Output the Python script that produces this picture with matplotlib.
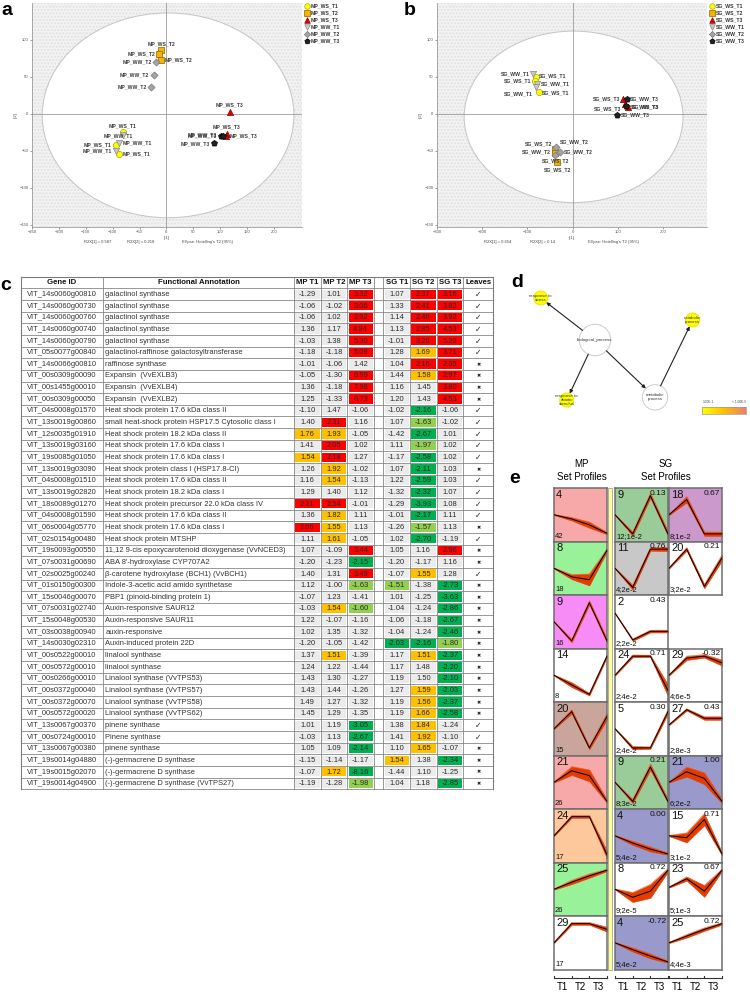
import numpy as np
import matplotlib.pyplot as plt
from matplotlib.patches import Ellipse, Rectangle, Circle
from matplotlib.colors import LinearSegmentedColormap

plt.rcParams['font.family'] = ['Liberation Sans', 'DejaVu Sans']

W, H = 750, 992

# ---------------- data: panels a / b (PCA scores) ----------------
mp_groups = ['MP_WS_T1', 'MP_WS_T2', 'MP_WS_T3', 'MP_WW_T1', 'MP_WW_T2', 'MP_WW_T3']
mp_t1 = [[-81, -94, -89], [-10, -13, -11], [118, 112, 110],
         [-81, -89, -94], [-19, -24, -29], [101, 105, 89]]
mp_t2 = [[-24, -42, -54], [86, 81, 73], [3, -27, -30],
         [-28, -39, -50], [70, 53, 36], [-30, -30, -40]]
mp_r2x = [0.587, 0.218]

sg_groups = ['SG_WS_T1', 'SG_WS_T2', 'SG_WS_T3', 'SG_WW_T1', 'SG_WW_T2', 'SG_WW_T3']
sg_t1 = [[-80, -83, -75], [-38, -38, -34], [112, 115, 123],
         [-87, -78, -80], [-36, -38, -27], [120, 119, 99]]
sg_t2 = [[50, 44, 29], [-47, -53, -65], [20, 14, 9],
         [54, 40, 36], [-45, -55, -51], [20, 11, -1]]
sg_r2x = [0.654, 0.14]

# ---------------- data: panel c (table) ----------------
gene_ids = ['VIT_14s0060g00810', 'VIT_14s0060g00730', 'VIT_14s0060g00760', 'VIT_14s0060g00740',
            'VIT_14s0060g00790', 'VIT_05s0077g00840', 'VIT_14s0066g00810', 'VIT_00s0309g00090',
            'VIT_00s1455g00010', 'VIT_00s0309g00050', 'VIT_04s0008g01570', 'VIT_13s0019g00860',
            'VIT_12s0035g01910', 'VIT_13s0019g03160', 'VIT_19s0085g01050', 'VIT_13s0019g03090',
            'VIT_04s0008g01510', 'VIT_13s0019g02820', 'VIT_18s0089g01270', 'VIT_04s0008g01590',
            'VIT_06s0004g05770', 'VIT_02s0154g00480', 'VIT_19s0093g00550', 'VIT_07s0031g00690',
            'VIT_02s0025g00240', 'VIT_01s0150g00300', 'VIT_15s0046g00070', 'VIT_07s0031g02740',
            'VIT_15s0048g00530', 'VIT_03s0038g00940', 'VIT_14s0030g02310', 'VIT_00s0522g00010',
            'VIT_00s0572g00010', 'VIT_00s0266g00010', 'VIT_00s0372g00040', 'VIT_00s0372g00070',
            'VIT_00s0572g00020', 'VIT_13s0067g00370', 'VIT_00s0724g00010', 'VIT_13s0067g00380',
            'VIT_19s0014g04880', 'VIT_19s0015g02070', 'VIT_19s0014g04900']
annotations = ['galactinol synthase', 'galactinol synthase', 'galactinol synthase',
               'galactinol synthase', 'galactinol synthase',
               'galactinol-raffinose galactosyltransferase', 'raffinose synthase',
               'Expansin  (VvEXLB3)', 'Expansin  (VvEXLB4)', 'Expansin  (VvEXLB2)',
               'Heat shock protein 17.6 kDa class II',
               'small heat-shock protein HSP17.5 Cytosolic class I',
               'Heat shock protein 18.2 kDa class II', 'Heat shock protein 17.6 kDa class I',
               'Heat shock protein 17.6 kDa class I', 'Heat shock protein class I (HSP17.8-CI)',
               'Heat shock protein 17.6 kDa class II', 'Heat shock protein 18.2 kDa class I',
               'Heat shock protein precursor 22.0 kDa class IV',
               'Heat shock protein 17.6 kDa class II', 'Heat shock protein 17.6 kDa class I',
               'Heat shock protein MTSHP',
               '11,12 9-cis epoxycarotenoid dioxygenase (VvNCED3)',
               "ABA 8'-hydroxylase CYP707A2", 'β-carotene hydroxylase (BCH1) (VvBCH1)',
               'Indole-3-acetic acid amido synthetase', 'PBP1 (pinoid-binding protein 1)',
               'Auxin-responsive SAUR12', 'Auxin-responsive SAUR11', 'auxin-responsive',
               'Auxin-induced protein 22D', 'linalool synthase', 'linalool synthase',
               'Linalool synthase (VvTPS53)', 'Linalool synthase (VvTPS57)',
               'Linalool synthase (VvTPS58)', 'Linalool synthase (VvTPS62)',
               'pinene synthase', 'Pinene synthase', 'pinene synthase',
               '(-)-germacrene D synthase', '(-)-germacrene D synthase',
               '(-)-germacrene D synthase (VvTPS27)']
mp_fc = [[-1.29, 1.01, 3.32], [-1.06, -1.02, 3.06], [-1.06, 1.02, 2.92], [1.36, 1.17, 4.94],
         [-1.03, 1.38, 5.30], [-1.18, -1.18, 5.09], [-1.01, -1.06, 1.42], [-1.05, -1.30, 6.69],
         [1.36, -1.18, 7.98], [1.25, -1.33, 6.73], [-1.10, 1.47, -1.06], [1.40, 2.31, 1.16],
         [1.76, 1.93, -1.05], [1.41, 2.05, 1.02], [1.54, 2.18, 1.27], [1.26, 1.92, -1.02],
         [1.16, 1.54, -1.13], [1.29, 1.40, 1.12], [2.21, 2.54, -1.01], [1.36, 1.82, 1.11],
         [2.06, 1.55, 1.13], [1.11, 1.61, -1.05], [1.07, -1.09, 3.44], [-1.20, -1.23, -2.15],
         [1.40, 1.31, 3.49], [1.12, -1.00, -1.63], [-1.07, 1.23, -1.41], [-1.03, 1.54, -1.60],
         [1.22, -1.07, -1.16], [1.02, 1.35, -1.32], [-1.20, -1.05, -1.42], [1.37, 1.51, -1.39],
         [1.24, 1.22, -1.44], [1.43, 1.30, -1.27], [1.43, 1.44, -1.26], [1.49, 1.27, -1.32],
         [1.45, 1.29, -1.35], [1.01, 1.19, -3.05], [-1.03, 1.13, -2.67], [1.05, 1.09, -2.14],
         [-1.15, -1.14, -1.17], [-1.07, 1.72, -8.16], [-1.19, -1.28, -1.98]]
sg_fc = [[1.07, 2.37, 3.16], [1.33, 2.41, 3.82], [1.14, 2.46, 3.92], [1.13, 2.85, 4.53],
         [-1.01, 3.26, 5.20], [1.28, 1.69, 3.71], [1.04, 2.16, 2.35], [1.44, 1.58, 2.97],
         [1.16, 1.45, 3.80], [1.20, 1.43, 4.53], [-1.02, -2.16, -1.06], [1.07, -1.63, -1.02],
         [-1.42, -2.67, 1.01], [1.11, -1.97, 1.02], [-1.17, -2.58, 1.02], [1.07, -2.11, 1.03],
         [1.22, -2.59, 1.03], [-1.32, -2.32, 1.07], [-1.29, -3.93, 1.08], [-1.01, -2.17, 1.11],
         [-1.26, -1.57, 1.13], [1.02, -2.70, -1.19], [1.05, 1.16, 2.96], [-1.20, -1.17, 1.16],
         [-1.07, 1.55, 1.28], [-1.51, -1.38, -2.73], [1.01, -1.25, -3.63], [-1.04, -1.24, -2.86],
         [-1.06, -1.18, -2.67], [-1.04, -1.24, -2.46], [-2.03, -2.16, -1.80], [1.17, 1.51, -2.37],
         [1.17, 1.48, -2.20], [1.19, 1.50, -2.10], [1.27, 1.59, -2.03], [1.19, 1.56, -2.37],
         [1.19, 1.66, -2.58], [1.38, 1.84, -1.24], [1.41, 1.92, -1.10], [1.10, 1.65, -1.07],
         [1.54, 1.38, -2.34], [-1.44, 1.10, -1.25], [1.04, 1.18, -2.85]]
leaves = [1, 1, 1, 1, 1, 1, 0, 0, 0, 0, 1, 1, 1, 1, 1, 0, 1, 1, 1, 1, 0, 1,
          0, 0, 1, 0, 0, 0, 0, 0, 0, 0, 0, 0, 0, 0, 0, 1, 1, 0, 0, 0, 0]

# ---------------- data: panel d (GO graph) ----------------
go_terms = ['biological_process', 'response to\nstress', 'response to\nabiotic\nstimulus',
            'metabolic\nprocess', 'catabolic\nprocess']
go_signif = [False, True, True, False, True]
go_edges = [(0, 1), (0, 2), (0, 3), (3, 4)]

# ---------------- data: panel e (STEM profiles) ----------------
mp_ids = [4, 8, 9, 14, 20, 21, 24, 25, 29]
mp_counts = [42, 18, 16, 8, 15, 26, 17, 26, 17]
mp_prof = [[0, -0.22, -0.53, -0.97], [0, -0.45, -0.6, 0.95], [0, -1.0, 1.0, -1.0],
           [0, -0.5, -1.0, 1.0], [0, 0.9, -1.0, 0.65], [0, 0.6, 0.35, -1.0],
           [0, 1.0, 1.0, -1.0], [0, 0.37, 0.7, 1.0], [0, 1.0, 1.0, 0.7]]
mp_spread = [[0.02, 0.08, 0.15, 0.05], [0.02, 0.12, 0.3, 0.06], [0.02, 0.08, 0.1, 0.1],
             [0.02, 0.12, 0.06, 0.05], [0.02, 0.1, 0.08, 0.15], [0.02, 0.22, 0.3, 0.08],
             [0.02, 0.06, 0.06, 0.2], [0.02, 0.1, 0.1, 0.05], [0.02, 0.06, 0.06, 0.12]]

# SG boxes, row by row (left, right); None = empty slot
sg_ids = [9, 18, 11, 20, 2, None, 24, 29, 5, 27, 9, 21, 4, 15, 8, 23, 4, 25]
sg_corr = [0.13, 0.67, 0.76, 0.21, 0.43, None, 0.71, -0.32, 0.30, 0.43,
           0.21, 1.00, 0.00, 0.71, 0.72, 0.67, -0.72, 0.72]
sg_stats = ['12;1e-2', '8;1e-2', '4;2e-2', '3;2e-2', '2;2e-2', None, '2;4e-2', '4;6e-5',
            '2;4e-2', '2;8e-3', '8;3e-2', '6;2e-2', '5;4e-2', '3;1e-2', '9;2e-5', '5;1e-3',
            '5;4e-2', '4;4e-3']
sg_prof = [[0, -1, 1, -1], [0, 0.8, -1, -1], [0, -1, 1, 1], [0, 1, -0.95, 0.55],
           [0.45, -0.95, -0.5, -0.5], None, [0, 1, 1, -0.8], [0, 0.9, 1, 0.65],
           [0, -1, -1, 0.9], [0.2, 1, 0.55, 0.55], [0, -1, 0.8, -1], [0, 0.55, 0.2, -1],
           [0, -0.38, -0.7, -0.95], [0, -0.1, 0.85, -0.95], [0, -0.42, -0.1, 1],
           [0.1, 0.55, -0.1, 1], [0, -0.36, -0.7, -1], [0, 0.35, 0.7, 1]]
sg_spread = [[0.02, 0.1, 0.12, 0.12], [0.02, 0.15, 0.1, 0.1], [0.02, 0.12, 0.08, 0.1],
             [0.02, 0.08, 0.1, 0.15], [0.02, 0.05, 0.06, 0.06], None,
             [0.02, 0.06, 0.05, 0.3], [0.02, 0.1, 0.08, 0.15], [0.02, 0.08, 0.05, 0.1],
             [0.02, 0.05, 0.08, 0.08], [0.02, 0.1, 0.15, 0.1], [0.02, 0.25, 0.3, 0.1],
             [0.02, 0.1, 0.12, 0.05], [0.02, 0.25, 0.3, 0.08], [0.02, 0.25, 0.35, 0.08],
             [0.02, 0.1, 0.3, 0.05], [0.02, 0.1, 0.12, 0.05], [0.02, 0.08, 0.08, 0.05]]

# ---------------- styles ----------------
grp_style = [('o', '#ffff00', '#a8a800'), ('s', '#f5b400', '#8a6400'), ('^', '#e00000', '#8a0000'),
             ('v', '#c8c8c8', '#8c8c8c'), ('D', '#a4a4a4', '#7a7a7a'), ('p', '#222222', '#000000')]
mp_box_col = ['#f7a8a8', '#99f299', '#f78cf7', 'white', '#c9a59c', '#f7a8a8', '#fdc99c',
              '#99f299', 'white']
sg_box_col = ['#99cc99', '#cc99cc', '#c8c8c8', 'white', 'white', None, 'white', 'white', 'white',
              'white', '#99cc99', '#9999cc', '#9999cc', 'white', 'white', 'white', '#9999cc', 'white']


def frac(x0, y0, x1, y1):
    return [x0 / W, 1 - y1 / H, (x1 - x0) / W, (y1 - y0) / H]


fig = plt.figure(figsize=(W / 100, H / 100), dpi=100)
ax0 = fig.add_axes([0, 0, 1, 1])
ax0.set_xlim(0, W)
ax0.set_ylim(H, 0)
ax0.axis('off')

for lab, x, y in [('a', 1, 15), ('b', 404, 15), ('c', 0, 290), ('d', 511, 287), ('e', 509, 483)]:
    ax0.text(x, y, lab, fontsize=14, fontweight='bold', ha='left', va='baseline')


# ---------------- panels a / b ----------------
def pca_panel(rect, xlim, xticks, groups, t1, t2, offs, r2x, ell, leg_x, txt_x):
    ax = fig.add_axes(frac(*rect))
    ax.set_xlim(*xlim)
    ax.set_ylim(-153, 150)
    ax.add_patch(Rectangle((0, 0), 1, 1, transform=ax.transAxes, facecolor='#f3f3f3',
                           edgecolor='#e0e0e0', hatch='.....', lw=0, zorder=0))
    ax.add_patch(Ellipse(ell[:2], ell[2], ell[3], facecolor='white', edgecolor='#c4c4c4',
                         lw=0.7, zorder=1))
    ax.axhline(0, color='#9c9c9c', lw=0.6, zorder=2)
    ax.axvline(0, color='#9c9c9c', lw=0.6, zorder=2)
    for g, xs, ys, of, (m, fc, ec) in zip(groups, t1, t2, offs, grp_style):
        ax.scatter(xs, ys, marker=m, s=20 if m != 'D' else 13, facecolor=fc, edgecolor=ec,
                   lw=0.5, zorder=4)
        for x, y, (dx, dy, ha) in zip(xs, ys, of):
            ax.text(x + dx, y + dy, g, ha=ha, va='center', fontsize=3.7, fontweight='bold',
                    color='#3a3a3a', zorder=5)
    ax.set_xticks(xticks)
    ax.set_yticks([-150, -100, -50, 0, 50, 100])
    ax.tick_params(labelsize=3, length=1.5, width=0.4, colors='#555555', pad=1)
    for s in ['top', 'right']:
        ax.spines[s].set_visible(False)
    for s in ['left', 'bottom']:
        ax.spines[s].set_color('#8a8a8a')
        ax.spines[s].set_linewidth(0.5)
    ax.set_xlabel('t[1]', fontsize=3, labelpad=1, color='#444')
    ax.set_ylabel('t[2]', fontsize=3, labelpad=1, color='#444')
    # legend
    for k, (g, (m, fc, ec)) in enumerate(zip(groups, grp_style)):
        yy = 6 + k * 6.9
        ax0.scatter([leg_x], [yy], marker=m, s=16 if m != 'D' else 10, facecolor=fc,
                    edgecolor=ec, lw=0.5)
        ax0.text(leg_x + 4, yy, g, fontsize=3.7, fontweight='bold', va='center', color='#333')
    ax0.text(txt_x[0], 242, f'R2X[1] = {r2x[0]}', fontsize=3, ha='center', va='center', color='#444')
    ax0.text(txt_x[1], 242, f'R2X[2] = {r2x[1]}', fontsize=3, ha='center', va='center', color='#444')
    ax0.text(txt_x[2], 242, "Ellipse: Hotelling's T2 (95%)", fontsize=3, ha='center',
             va='center', color='#444')


mp_offs = [[(0, 8, 'center'), (-8, 0, 'right'), (7, 0, 'left')],
           [(0, 9, 'center'), (-8, 0, 'right'), (8, 0, 'left')],
           [(0, 9, 'center'), (0, 10, 'center'), (8, 0, 'left')],
           [(-9, -2, 'center'), (7, 0, 'left'), (-8, 0, 'right')],
           [(-8, 0, 'right'), (-8, 0, 'right'), (-8, 0, 'right')],
           [(-7, 0, 'right'), (-12, 1, 'right'), (-9, 0, 'right')]]
sg_offs = [[(6, 1, 'left'), (-8, 0, 'right'), (7, 0, 'left')],
           [(-7, 7, 'right'), (0, -11, 'center'), (0, -11, 'center')],
           [(-7, 0, 'right'), (15, -4, 'left'), (-16, -2, 'right')],
           [(-7, 0, 'right'), (7, 0, 'left'), (-7, -9, 'right')],
           [(8, 7, 'left'), (-10, 3, 'right'), (8, 0, 'left')],
           [(6, 0, 'left'), (8, -1, 'left'), (7, 0, 'left')]]

pca_panel((32, 3, 302, 227), (-250, 252), [-250, -200, -150, -100, -50, 0, 50, 100, 150, 200],
          mp_groups, mp_t1, mp_t2, mp_offs, mp_r2x, (3, -2, 468, 277), 307, (98, 141, 208))
pca_panel((437, 3, 707, 227), (-300, 297), [-300, -200, -100, 0, 100, 200],
          sg_groups, sg_t1, sg_t2, sg_offs, sg_r2x, (2, -4, 484, 232), 712, (498, 543, 614))

# ---------------- panel c: table ----------------
col_x = [20.7, 103.3, 294, 320.7, 347.3, 374, 383.3, 410, 436.7, 463.3, 493.3]
y_head, y_row0, row_h = 276.7, 288.3, 11.65
n = len(gene_ids)
y_end = y_row0 + n * row_h


def fc_color(v):
    if v >= 2:
        return '#ff0000'
    if v > 1.5:
        return '#ffc000'
    if v <= -2:
        return '#00b050'
    if v < -1.5:
        return '#92d050'
    return '#ebebeb'


headers = ['Gene ID', 'Functional Annotation', 'MP T1', 'MP T2', 'MP T3', '',
           'SG T1', 'SG T2', 'SG T3', 'Leaves']
for j, h in enumerate(headers):
    ax0.text((col_x[j] + col_x[j + 1]) / 2, (y_head + y_row0) / 2 + 0.3, h, ha='center',
             va='center', fontsize=5.6, fontweight='bold', color='#111')

for i in range(n):
    y0 = y_row0 + i * row_h
    yc = y0 + row_h / 2 + 0.3
    ax0.text((col_x[0] + col_x[1]) / 2, yc, gene_ids[i], ha='center', va='center',
             fontsize=5.4, color='#333')
    ax0.text(col_x[1] + 2, yc, annotations[i], ha='left', va='center', fontsize=5.4, color='#333')
    vals = list(mp_fc[i]) + list(sg_fc[i])
    cols = [2, 3, 4, 6, 7, 8]
    for v, c in zip(vals, cols):
        ax0.add_patch(Rectangle((col_x[c] + 1.2, y0 + 1.2), col_x[c + 1] - col_x[c] - 2.4,
                                row_h - 2.4, facecolor=fc_color(v), lw=0))
        ax0.text((col_x[c] + col_x[c + 1]) / 2, yc, f'{v:.2f}', ha='center', va='center',
                 fontsize=5.4, color='#2a2a2a')
    if leaves[i]:
        ax0.text((col_x[9] + col_x[10]) / 2, yc, '✓', ha='center', va='center', fontsize=5.5,
                 family='DejaVu Sans', color='#222')
    else:
        ax0.text((col_x[9] + col_x[10]) / 2, yc, '✖', ha='center', va='center', fontsize=3.6,
                 family='DejaVu Sans', color='#222')

for i in range(n + 1):
    y = y_row0 + i * row_h
    ax0.plot([col_x[0], col_x[-1]], [y, y], color='#7c7c7c', lw=0.55)
ax0.plot([col_x[0], col_x[-1]], [y_head, y_head], color='#7c7c7c', lw=0.8)
for j, x in enumerate(col_x):
    ax0.plot([x, x], [y_head, y_end], color='#7c7c7c', lw=0.8 if j in (0, 10) else 0.55)

# ---------------- panel d: GO graph ----------------
go_xy = [(595, 340), (540.7, 298), (566.7, 400), (655, 397.3), (692.7, 320)]
go_r = [15.7, 7, 7, 12.7, 7]
for (a, b) in go_edges:
    p1, p2 = np.array(go_xy[a]), np.array(go_xy[b])
    u = (p2 - p1) / np.linalg.norm(p2 - p1)
    ax0.annotate('', xy=p2 - u * go_r[b], xytext=p1 + u * go_r[a],
                 arrowprops=dict(arrowstyle='-|>', color='#222', lw=0.8, mutation_scale=5,
                                 shrinkA=0, shrinkB=0))
for term, sig, (x, y), r in zip(go_terms, go_signif, go_xy, go_r):
    ax0.add_patch(Circle((x, y), r, facecolor='#ffff00' if sig else 'white',
                         edgecolor='#e6e600' if sig else '#cccccc', lw=0.7))
    ax0.text(x, y, term, ha='center', va='center', fontsize=3.2, color='#333', linespacing=1.0)

cb_ax = fig.add_axes(frac(702.3, 406.7, 745.7, 414))
cmap = LinearSegmentedColormap.from_list('go', ['#ffff00', '#ffc000', '#ee806a'])
cb_ax.imshow(np.linspace(0, 1, 100)[None, :], cmap=cmap, aspect='auto')
cb_ax.set_xticks([])
cb_ax.set_yticks([])
for s in cb_ax.spines.values():
    s.set_color('#999')
    s.set_linewidth(0.5)
ax0.text(703, 404, '1.00E-1', fontsize=2.3, ha='left', va='bottom', color='#444')
ax0.text(746, 404, '< 1.00E-5', fontsize=2.3, ha='right', va='bottom', color='#444')

# ---------------- panel e: STEM profiles ----------------
ax0.text(581.7, 464, 'MP', ha='center', va='center', fontsize=7)
ax0.text(581.7, 476.7, 'Set Profiles', ha='center', va='center', fontsize=7)
ax0.text(666, 464, 'SG', ha='center', va='center', fontsize=7)
ax0.text(666, 476.7, 'Set Profiles', ha='center', va='center', fontsize=7)

e_cols = [(554, 607), (615, 668), (669, 722)]
e_top, e_h = 488, 53.5


def profile_box(x0, x1, y0, prof, spr, color, num, stat, corr=None):
    ax = fig.add_axes(frac(x0, y0, x1, y0 + e_h))
    ax.set_facecolor(color)
    t = np.arange(4)
    p, s = np.array(prof), np.array(spr)
    ax.fill_between(t, p - s, p + s, color='#e23c00', lw=0.4, zorder=2)
    ax.plot(t, p + s, color='#f06030', lw=0.4, zorder=2)
    ax.plot(t, p, color='black', lw=0.7, zorder=3)
    ax.set_xlim(0, 3)
    ax.set_ylim(-1.4, 1.4)
    ax.set_xticks([])
    ax.set_yticks([])
    for sp in ax.spines.values():
        sp.set_color('#6e6e6e')
        sp.set_linewidth(1.1)
    ax.text(0.04, 0.97, str(num), transform=ax.transAxes, ha='left', va='top', fontsize=8,
            color='#111', zorder=5)
    ax.text(0.02, 0.03, stat, transform=ax.transAxes, ha='left', va='bottom', fontsize=5.5,
            color='#111', zorder=5)
    if corr is not None:
        ax.text(0.97, 0.97, f'{corr:.2f}', transform=ax.transAxes, ha='right', va='top',
                fontsize=6, color='#111', zorder=5)


for i in range(9):
    profile_box(*e_cols[0], e_top + i * e_h, mp_prof[i], mp_spread[i], mp_box_col[i],
                mp_ids[i], str(mp_counts[i]))
for k in range(18):
    if sg_ids[k] is None:
        continue
    r, c = divmod(k, 2)
    profile_box(*e_cols[1 + c], e_top + r * e_h, sg_prof[k], sg_spread[k], sg_box_col[k],
                sg_ids[k], sg_stats[k], sg_corr[k])

ax0.add_patch(Rectangle((608, e_top), 4, 9 * e_h, facecolor='#ffff99', edgecolor='#a0a0a0', lw=0.6))

for x0, x1 in e_cols:
    ax0.plot([x0, x1], [978, 978], color='#333', lw=0.8)
    step = (x1 - x0) / 3
    for k in range(4):
        ax0.plot([x0 + k * step] * 2, [975.5, 978], color='#333', lw=0.8)
    for k, lab in enumerate(['T1', 'T2', 'T3']):
        ax0.text(x0 + (k + 0.5) * step, 986.5, lab, ha='center', va='center', fontsize=7)

fig.savefig('out.png', dpi=100)
